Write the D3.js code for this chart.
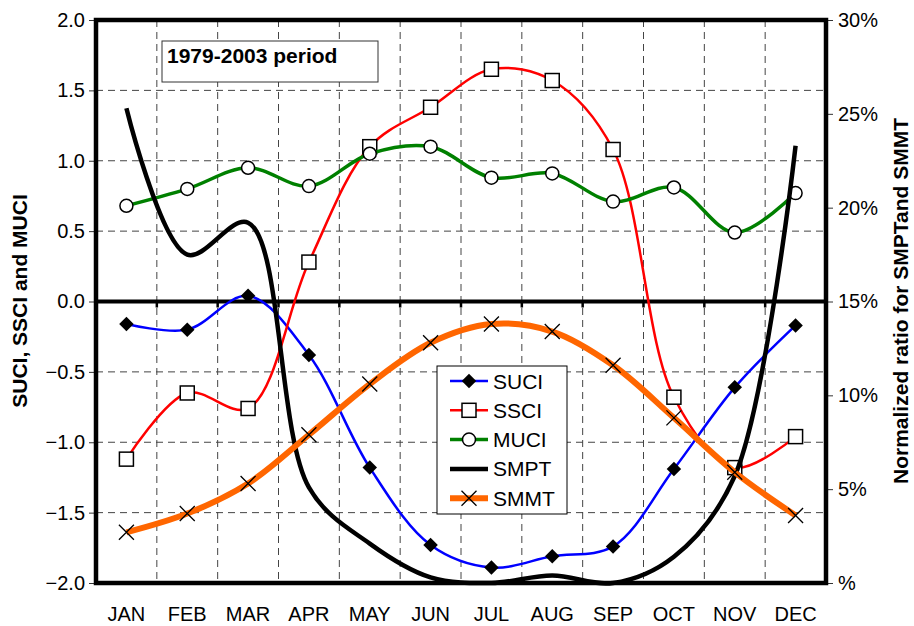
<!DOCTYPE html>
<html>
<head>
<meta charset="utf-8">
<script src="https://cdn.jsdelivr.net/npm/d3@7"></script>
<style>
  body { margin: 0; background: #fff; }
  svg { font-family: "Liberation Sans", Arial, sans-serif; }
</style>
</head>
<body>
<svg width="914" height="626"></svg>
<script>

const months = ['JAN','FEB','MAR','APR','MAY','JUN','JUL','AUG','SEP','OCT','NOV','DEC'];

// left axis indices
const suci = [-0.16, -0.20, 0.04, -0.38, -1.18, -1.73, -1.89, -1.81, -1.74, -1.19, -0.61, -0.17];
const ssci = [-1.12, -0.65, -0.76, 0.28, 1.10, 1.38, 1.65, 1.57, 1.08, -0.68, -1.18, -0.96];
const muci = [0.68, 0.80, 0.95, 0.82, 1.05, 1.10, 0.88, 0.91, 0.71, 0.81, 0.49, 0.77];

// right axis ratios (%)
const smpt = [25.3, 17.5, 19.2, 5.1, 2.1, 0.3, 0.0, 0.4, 0.0, 1.4, 5.7, 23.3];
const smmt = [2.7, 3.7, 5.3, 7.9, 10.6, 12.8, 13.8, 13.4, 11.6, 8.8, 5.9, 3.6];

const leftTicks = [-2, -1.5, -1, -0.5, 0, 0.5, 1, 1.5, 2];
const rightTicks = [0, 5, 10, 15, 20, 25, 30];

const svg = d3.select('svg');

const x0 = 96, x1 = 826, yTop = 20, yBottom = 583;

const x = d3.scaleBand().domain(months).range([x0, x1]);
const cx = m => x(m) + x.bandwidth() / 2;
const y = d3.scaleLinear().domain([-2, 2]).range([yBottom, yTop]);
const y2 = d3.scaleLinear().domain([0, 30]).range([yBottom, yTop]);

// grid
const grid = svg.append('g')
    .attr('stroke', '#444')
    .attr('stroke-width', 1)
    .attr('stroke-dasharray', '7,5');

grid.selectAll('.hg')
    .data(leftTicks.filter(d => d !== 0 && Math.abs(d) !== 2))
    .enter().append('line')
        .attr('x1', x0).attr('x2', x1)
        .attr('y1', d => y(d)).attr('y2', d => y(d));

grid.selectAll('.vg')
    .data(months.slice(1))
    .enter().append('line')
        .attr('x1', d => x(d)).attr('x2', d => x(d))
        .attr('y1', yTop).attr('y2', yBottom);

// left axis
const leftAxis = d3.axisLeft(y)
    .tickValues(leftTicks)
    .tickFormat(d3.format('.1f'))
    .tickSize(7)
    .tickPadding(4);

const la = svg.append('g')
    .attr('transform', `translate(${x0},0)`)
    .call(leftAxis);
la.select('.domain').remove();
la.selectAll('line').attr('stroke', '#333');
la.selectAll('text').attr('font-size', 20).attr('fill', '#000');

// right axis
const rightAxis = d3.axisRight(y2)
    .tickValues(rightTicks)
    .tickFormat(d => d === 0 ? '%' : d + '%')
    .tickSize(7)
    .tickPadding(5);

const ra = svg.append('g')
    .attr('transform', `translate(${x1},0)`)
    .call(rightAxis);
ra.select('.domain').remove();
ra.selectAll('line').attr('stroke', '#333');
ra.selectAll('text').attr('font-size', 20).attr('fill', '#000');

// month labels
svg.selectAll('.mlab')
    .data(months)
    .enter().append('text')
        .attr('x', d => cx(d))
        .attr('y', 621)
        .attr('text-anchor', 'middle')
        .attr('font-size', 20)
        .text(d => d);

// zero line with ticks
svg.append('line')
    .attr('x1', x0).attr('x2', x1)
    .attr('y1', y(0)).attr('y2', y(0))
    .attr('stroke', '#000').attr('stroke-width', 4);

svg.selectAll('.zt')
    .data(months.slice(1))
    .enter().append('line')
        .attr('x1', d => x(d)).attr('x2', d => x(d))
        .attr('y1', y(0)).attr('y2', y(0) + 6)
        .attr('stroke', '#000').attr('stroke-width', 2.5);

// plot frame
svg.append('rect')
    .attr('x', x0).attr('y', yTop)
    .attr('width', x1 - x0).attr('height', yBottom - yTop)
    .attr('fill', 'none')
    .attr('stroke', '#000')
    .attr('stroke-width', 4.5);

// series
const curve = d3.curveCatmullRom.alpha(0.5);

const series = [
    {name: 'SUCI', vals: suci, scale: y, color: '#0000ff', width: 2.5, marker: 'diamond'},
    {name: 'SSCI', vals: ssci, scale: y, color: '#ff0000', width: 2.5, marker: 'square'},
    {name: 'MUCI', vals: muci, scale: y, color: '#008000', width: 3.5, marker: 'circle'},
    {name: 'SMPT', vals: smpt, scale: y2, color: '#000000', width: 4.5, marker: null},
    {name: 'SMMT', vals: smmt, scale: y2, color: '#ff6600', width: 6, marker: 'cross'}
];

function drawMarker(g, type, px, py) {
    if (type === 'diamond') {
        g.append('path')
            .attr('d', d3.symbol().type(d3.symbolSquare).size(105)())
            .attr('transform', `translate(${px},${py}) rotate(45)`)
            .attr('fill', '#000');
    } else if (type === 'square') {
        g.append('rect')
            .attr('x', px - 7).attr('y', py - 7)
            .attr('width', 14).attr('height', 14)
            .attr('fill', '#fff').attr('stroke', '#000').attr('stroke-width', 1.5);
    } else if (type === 'circle') {
        g.append('circle')
            .attr('cx', px).attr('cy', py).attr('r', 6.5)
            .attr('fill', '#fff').attr('stroke', '#000').attr('stroke-width', 1.5);
    } else if (type === 'cross') {
        g.append('path')
            .attr('d', `M${px-7.5},${py-7.5}L${px+7.5},${py+7.5}M${px-7.5},${py+7.5}L${px+7.5},${py-7.5}`)
            .attr('stroke', '#000').attr('stroke-width', 1.3);
    }
}

series.forEach(s => {
    const line = d3.line()
        .x((d, i) => cx(months[i]))
        .y(d => s.scale(d))
        .curve(curve);

    const g = svg.append('g');
    g.append('path')
        .datum(s.vals)
        .attr('d', line)
        .attr('fill', 'none')
        .attr('stroke', s.color)
        .attr('stroke-width', s.width);

    if (s.marker) {
        s.vals.forEach((v, i) => drawMarker(g, s.marker, cx(months[i]), s.scale(v)));
    }
});

// period box
svg.append('rect')
    .attr('x', 162).attr('y', 41)
    .attr('width', 216).attr('height', 41)
    .attr('fill', '#fff')
    .attr('stroke', '#333').attr('stroke-width', 1);
svg.append('text')
    .attr('x', 167).attr('y', 63)
    .attr('font-size', 21).attr('font-weight', 'bold')
    .text('1979-2003 period');

// legend
const legend = svg.append('g');
legend.append('rect')
    .attr('x', 437).attr('y', 366)
    .attr('width', 130).attr('height', 148)
    .attr('fill', '#fff')
    .attr('stroke', '#000').attr('stroke-width', 1);

series.forEach((s, i) => {
    const ly = 381 + i * 29.3;
    legend.append('line')
        .attr('x1', 450).attr('x2', 488)
        .attr('y1', ly).attr('y2', ly)
        .attr('stroke', s.color)
        .attr('stroke-width', s.width);
    if (s.marker) drawMarker(legend, s.marker, 469, ly);
    legend.append('text')
        .attr('x', 493).attr('y', ly + 7.5)
        .attr('font-size', 21)
        .text(s.name);
});

// axis titles
svg.append('text')
    .attr('transform', 'translate(27,301) rotate(-90)')
    .attr('text-anchor', 'middle')
    .attr('font-size', 21).attr('font-weight', 'bold')
    .text('SUCI, SSCI and MUCI');

svg.append('text')
    .attr('transform', 'translate(908,301) rotate(-90)')
    .attr('text-anchor', 'middle')
    .attr('font-size', 21).attr('font-weight', 'bold')
    .text('Normalized ratio for SMPTand SMMT');

</script>
</body>
</html>
